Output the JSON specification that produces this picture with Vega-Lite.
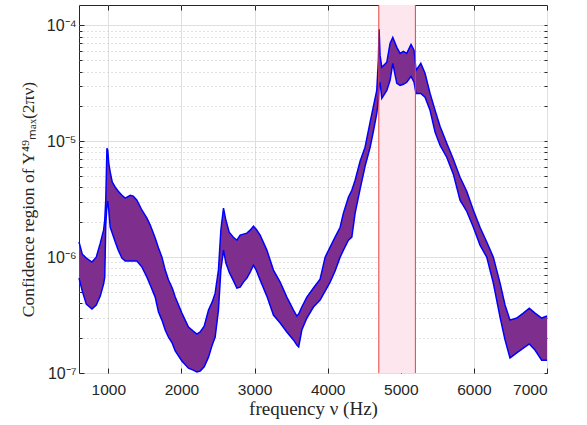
{
  "$schema": "https://vega.github.io/schema/vega-lite/v6.json",
  "width": 468,
  "height": 368,
  "autosize": {"type": "none"},
  "padding": {"left": 79, "top": 5, "right": 40, "bottom": 52},
  "background": "white",
  "config": {
    "view": {"stroke": "#262626", "strokeWidth": 1},
    "axis": {
      "labelFont": "Liberation Sans",
      "labelFontSize": 15,
      "labelColor": "#262626",
      "tickColor": "#262626",
      "tickWidth": 1,
      "domain": false,
      "titleFont": "Liberation Serif",
      "titleFontWeight": "normal",
      "titleFontSize": 19,
      "titleColor": "#262626"
    }
  },
  "datasets": {
    "band": [
      {"f": 600, "hi": 1.35e-6, "lo": 6.59e-7},
      {"f": 645, "hi": 1.06e-6, "lo": 5.09e-7},
      {"f": 700, "hi": 9.80e-7, "lo": 3.93e-7},
      {"f": 777, "hi": 9.06e-7, "lo": 3.56e-7},
      {"f": 836, "hi": 1.00e-6, "lo": 3.86e-7},
      {"f": 891, "hi": 1.32e-6, "lo": 4.61e-7},
      {"f": 936, "hi": 1.71e-6, "lo": 5.85e-7},
      {"f": 952, "hi": 2.08e-6, "lo": 6.72e-7},
      {"f": 966, "hi": 3.10e-6, "lo": 1.89e-6},
      {"f": 982, "hi": 8.70e-6, "lo": 2.81e-6},
      {"f": 993, "hi": 8.37e-6, "lo": 3.04e-6},
      {"f": 1007, "hi": 6.46e-6, "lo": 2.54e-6},
      {"f": 1027, "hi": 5.41e-6, "lo": 1.81e-6},
      {"f": 1055, "hi": 4.43e-6, "lo": 1.61e-6},
      {"f": 1096, "hi": 4.01e-6, "lo": 1.35e-6},
      {"f": 1137, "hi": 3.71e-6, "lo": 1.15e-6},
      {"f": 1187, "hi": 3.42e-6, "lo": 9.80e-7},
      {"f": 1232, "hi": 3.23e-6, "lo": 9.24e-7},
      {"f": 1301, "hi": 3.42e-6, "lo": 9.24e-7},
      {"f": 1342, "hi": 3.36e-6, "lo": 9.24e-7},
      {"f": 1392, "hi": 3.10e-6, "lo": 9.24e-7},
      {"f": 1461, "hi": 2.54e-6, "lo": 8.20e-7},
      {"f": 1529, "hi": 2.17e-6, "lo": 6.72e-7},
      {"f": 1574, "hi": 1.89e-6, "lo": 5.74e-7},
      {"f": 1642, "hi": 1.46e-6, "lo": 4.52e-7},
      {"f": 1687, "hi": 1.20e-6, "lo": 3.36e-7},
      {"f": 1734, "hi": 1.00e-6, "lo": 2.86e-7},
      {"f": 1779, "hi": 7.73e-7, "lo": 2.35e-7},
      {"f": 1824, "hi": 6.34e-7, "lo": 2.04e-7},
      {"f": 1875, "hi": 5.41e-7, "lo": 1.81e-7},
      {"f": 1916, "hi": 4.52e-7, "lo": 1.55e-7},
      {"f": 2007, "hi": 3.29e-7, "lo": 1.27e-7},
      {"f": 2097, "hi": 2.49e-7, "lo": 1.10e-7},
      {"f": 2162, "hi": 2.30e-7, "lo": 1.06e-7},
      {"f": 2212, "hi": 2.17e-7, "lo": 1.02e-7},
      {"f": 2257, "hi": 2.26e-7, "lo": 1.04e-7},
      {"f": 2312, "hi": 2.54e-7, "lo": 1.13e-7},
      {"f": 2371, "hi": 3.49e-7, "lo": 1.37e-7},
      {"f": 2421, "hi": 4.09e-7, "lo": 1.74e-7},
      {"f": 2462, "hi": 4.89e-7, "lo": 2.04e-7},
      {"f": 2507, "hi": 7.73e-7, "lo": 3.49e-7},
      {"f": 2540, "hi": 1.71e-6, "lo": 7.73e-7},
      {"f": 2576, "hi": 2.65e-6, "lo": 1.15e-6},
      {"f": 2609, "hi": 2.08e-6, "lo": 8.88e-7},
      {"f": 2654, "hi": 1.64e-6, "lo": 7.43e-7},
      {"f": 2708, "hi": 1.49e-6, "lo": 6.34e-7},
      {"f": 2759, "hi": 1.40e-6, "lo": 5.41e-7},
      {"f": 2804, "hi": 1.55e-6, "lo": 5.51e-7},
      {"f": 2849, "hi": 1.58e-6, "lo": 6.09e-7},
      {"f": 2896, "hi": 1.61e-6, "lo": 6.59e-7},
      {"f": 2941, "hi": 1.71e-6, "lo": 7.43e-7},
      {"f": 2986, "hi": 1.85e-6, "lo": 8.53e-7},
      {"f": 3023, "hi": 1.74e-6, "lo": 7.73e-7},
      {"f": 3077, "hi": 1.55e-6, "lo": 6.34e-7},
      {"f": 3169, "hi": 1.15e-6, "lo": 4.61e-7},
      {"f": 3259, "hi": 7.73e-7, "lo": 3.16e-7},
      {"f": 3351, "hi": 6.09e-7, "lo": 2.70e-7},
      {"f": 3442, "hi": 4.52e-7, "lo": 2.26e-7},
      {"f": 3533, "hi": 3.49e-7, "lo": 1.93e-7},
      {"f": 3579, "hi": 3.10e-7, "lo": 1.74e-7},
      {"f": 3604, "hi": 3.23e-7, "lo": 1.68e-7},
      {"f": 3647, "hi": 3.71e-7, "lo": 2.35e-7},
      {"f": 3716, "hi": 4.52e-7, "lo": 2.98e-7},
      {"f": 3806, "hi": 5.41e-7, "lo": 3.71e-7},
      {"f": 3897, "hi": 6.46e-7, "lo": 4.26e-7},
      {"f": 3966, "hi": 1.00e-6, "lo": 5.09e-7},
      {"f": 4034, "hi": 1.22e-6, "lo": 6.09e-7},
      {"f": 4102, "hi": 1.49e-6, "lo": 7.58e-7},
      {"f": 4171, "hi": 1.81e-6, "lo": 1.00e-6},
      {"f": 4216, "hi": 2.40e-6, "lo": 1.15e-6},
      {"f": 4284, "hi": 3.29e-6, "lo": 1.40e-6},
      {"f": 4331, "hi": 3.78e-6, "lo": 1.49e-6},
      {"f": 4376, "hi": 4.61e-6, "lo": 2.40e-6},
      {"f": 4444, "hi": 6.72e-6, "lo": 3.86e-6},
      {"f": 4512, "hi": 8.88e-6, "lo": 6.09e-6},
      {"f": 4581, "hi": 1.46e-5, "lo": 8.88e-6},
      {"f": 4626, "hi": 2.00e-5, "lo": 1.22e-5},
      {"f": 4672, "hi": 2.75e-5, "lo": 1.74e-5},
      {"f": 4694, "hi": 4.99e-5, "lo": 2.26e-5},
      {"f": 4704, "hi": 9.24e-5, "lo": 3.04e-5},
      {"f": 4717, "hi": 5.51e-5, "lo": 3.23e-5},
      {"f": 4741, "hi": 4.35e-5, "lo": 2.35e-5},
      {"f": 4809, "hi": 4.80e-5, "lo": 2.75e-5},
      {"f": 4854, "hi": 7.00e-5, "lo": 3.36e-5},
      {"f": 4891, "hi": 7.88e-5, "lo": 4.70e-5},
      {"f": 4946, "hi": 6.46e-5, "lo": 3.16e-5},
      {"f": 4991, "hi": 5.74e-5, "lo": 3.04e-5},
      {"f": 5036, "hi": 5.97e-5, "lo": 3.10e-5},
      {"f": 5082, "hi": 5.74e-5, "lo": 3.23e-5},
      {"f": 5141, "hi": 6.86e-5, "lo": 3.63e-5},
      {"f": 5182, "hi": 6.09e-5, "lo": 3.23e-5},
      {"f": 5209, "hi": 4.09e-5, "lo": 2.59e-5},
      {"f": 5274, "hi": 4.70e-5, "lo": 2.59e-5},
      {"f": 5332, "hi": 3.86e-5, "lo": 2.40e-5},
      {"f": 5401, "hi": 2.59e-5, "lo": 1.85e-5},
      {"f": 5469, "hi": 1.85e-5, "lo": 1.20e-5},
      {"f": 5537, "hi": 1.35e-5, "lo": 9.24e-6},
      {"f": 5629, "hi": 9.61e-6, "lo": 7.28e-6},
      {"f": 5719, "hi": 7.00e-6, "lo": 5.20e-6},
      {"f": 5811, "hi": 4.89e-6, "lo": 3.10e-6},
      {"f": 5902, "hi": 3.71e-6, "lo": 2.49e-6},
      {"f": 5993, "hi": 2.54e-6, "lo": 1.81e-6},
      {"f": 6084, "hi": 1.81e-6, "lo": 1.27e-6},
      {"f": 6176, "hi": 1.35e-6, "lo": 1.00e-6},
      {"f": 6266, "hi": 1.00e-6, "lo": 5.97e-7},
      {"f": 6358, "hi": 5.97e-7, "lo": 3.04e-7},
      {"f": 6426, "hi": 3.86e-7, "lo": 1.93e-7},
      {"f": 6494, "hi": 2.86e-7, "lo": 1.35e-7},
      {"f": 6586, "hi": 2.98e-7, "lo": 1.49e-7},
      {"f": 6676, "hi": 3.29e-7, "lo": 1.64e-7},
      {"f": 6758, "hi": 3.63e-7, "lo": 1.78e-7},
      {"f": 6836, "hi": 3.29e-7, "lo": 1.58e-7},
      {"f": 6927, "hi": 2.98e-7, "lo": 1.29e-7},
      {"f": 7000, "hi": 3.10e-7, "lo": 1.29e-7}
    ],
    "region": [{"start": 4700, "end": 5200}],
    "edges": [{"x": 4700}, {"x": 5200}]
  },
  "layer": [
    {
      "data": {"name": "region"},
      "mark": {"type": "rect", "color": "#fde6ee", "opacity": 1},
      "encoding": {
        "x": {"field": "start", "type": "quantitative", "scale": {"domain": [600, 7000], "nice": false, "zero": false}, "axis": null},
        "x2": {"field": "end"}
      }
    },
    {
      "data": {"name": "band"},
      "mark": {"type": "area", "color": "#7E2F8E", "opacity": 1},
      "encoding": {
        "x": {
          "field": "f", "type": "quantitative",
          "axis": {
            "values": [1000, 2000, 3000, 4000, 5000, 6000, 7000],
            "format": "d",
            "grid": true, "gridColor": "#dfdfdf",
            "tickSize": -5,
            "labelPadding": 14,
            "labelFontSize": 15.5,
            "title": "frequency ν (Hz)",
            "titlePadding": 2
          }
        },
        "y": {
          "field": "hi", "type": "quantitative",
          "scale": {"type": "log", "domain": [1e-7, 1.5e-4], "nice": false},
          "axis": {
            "values": [1e-7, 1e-6, 1e-5, 1e-4],
            "labelExpr": "datum.value > 5e-5 ? '10⁻⁴' : datum.value > 5e-6 ? '10⁻⁵' : datum.value > 5e-7 ? '10⁻⁶' : '10⁻⁷'",
            "labelFontSize": 16,
            "grid": true, "gridColor": "#dfdfdf",
            "tickSize": -5,
            "labelPadding": 8,
            "title": "Confidence region of Y⁴⁹ₘₐₓ(2πν)",
            "titleFontSize": 17.5,
            "titleY": 194,
            "titlePadding": 9
          }
        },
        "y2": {"field": "lo"}
      }
    },
    {
      "data": {"name": "band"},
      "mark": {"type": "line", "color": "#0000ff", "strokeWidth": 1.5},
      "encoding": {
        "x": {"field": "f", "type": "quantitative", "axis": null},
        "y": {
          "field": "hi", "type": "quantitative",
          "axis": {
            "orient": "left",
            "values": [2e-7, 3e-7, 4e-7, 5e-7, 6e-7, 7e-7, 8e-7, 9e-7, 2e-6, 3e-6, 4e-6, 5e-6, 6e-6, 7e-6, 8e-6, 9e-6, 2e-5, 3e-5, 4e-5, 5e-5, 6e-5, 7e-5, 8e-5, 9e-5],
            "grid": true, "gridColor": "#c4c4c4", "gridDash": [1, 3],
            "tickSize": -3, "labels": false, "title": null
          }
        }
      }
    },
    {
      "data": {"name": "band"},
      "mark": {"type": "line", "color": "#0000ff", "strokeWidth": 1.5},
      "encoding": {
        "x": {"field": "f", "type": "quantitative", "axis": null},
        "y": {
          "field": "lo", "type": "quantitative",
          "axis": {
            "orient": "right",
            "values": [1e-7, 2e-7, 3e-7, 4e-7, 5e-7, 6e-7, 7e-7, 8e-7, 9e-7, 1e-6, 2e-6, 3e-6, 4e-6, 5e-6, 6e-6, 7e-6, 8e-6, 9e-6, 1e-5, 2e-5, 3e-5, 4e-5, 5e-5, 6e-5, 7e-5, 8e-5, 9e-5, 1e-4],
            "grid": false,
            "tickSize": -3, "labels": false, "title": null
          }
        }
      }
    },
    {
      "data": {"name": "edges"},
      "mark": {"type": "rule", "color": "#e8403a", "strokeWidth": 1},
      "encoding": {
        "x": {
          "field": "x", "type": "quantitative",
          "axis": {
            "orient": "top",
            "values": [1000, 2000, 3000, 4000, 5000, 6000, 7000],
            "grid": false, "labels": false, "tickSize": -5, "title": null
          }
        }
      }
    }
  ],
  "resolve": {"axis": {"x": "independent", "y": "independent"}}
}
